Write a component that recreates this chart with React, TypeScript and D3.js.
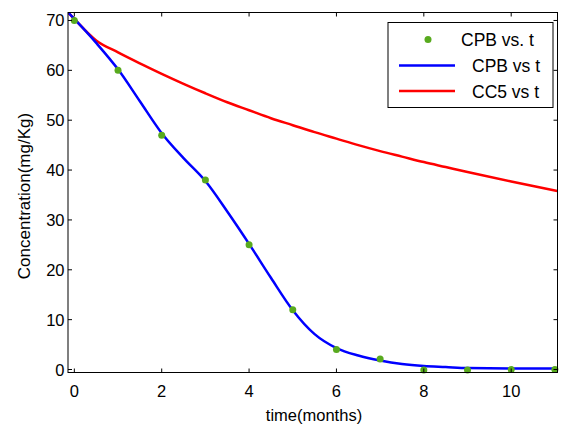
import React from "react";
import * as d3 from "d3";

const obsT = [0, 1, 2, 3, 4, 5, 6, 7, 8, 9, 10, 11];
const obsCPB = [70, 60, 47, 38, 25, 12, 4, 2.1, -0.1, -0.1, 0, 0];

const fitT = [-0.13, 0, 0.5, 1, 1.5, 2, 2.5, 3, 3.5, 4, 4.5, 5, 5.5, 6, 6.5, 7, 7.5, 8, 8.5, 9, 10, 11.06];
const fitCPB = [71.5, 70.3, 65.5, 60.2, 53.8, 47.4, 42.4, 37.8, 31.7, 25.2, 18.4, 11.9, 7.1, 4.3, 2.8, 1.8, 1.1, 0.7, 0.5, 0.3, 0.2, 0.2];
const fitCC5 = [71.5, 70.3, 66.0, 63.6, 61.4, 59.3, 57.3, 55.4, 53.6, 52.0, 50.4, 49.0, 47.6, 46.3, 45.0, 43.8, 42.7, 41.6, 40.6, 39.6, 37.7, 35.8];

const xTicks = [0, 2, 4, 6, 8, 10];
const yTicks = [0, 10, 20, 30, 40, 50, 60, 70];
const legendLabels = ["CPB vs. t", "CPB vs t", "CC5 vs t"];

const W = 562, H = 427;
const L = 68, R = 557.5, T = 12.5, B = 372.5;
const FONT = "'Liberation Sans', Arial, sans-serif";

export default function App() {
  const x = d3.scaleLinear().domain([-0.145, 11.06]).range([L, R]);
  const y = d3.scaleLinear().domain([-0.6, 71.6]).range([B, T]);
  const line = d3.line<number>().x((_, i) => x(fitT[i])).y((d) => y(d)).curve(d3.curveMonotoneX);
  const tl = 4;
  const green = "rgb(88,170,30)";
  const fs = 16.5;
  return (
    <svg width={W} height={H} style={{ position: "absolute", left: 0, top: 0, background: "#fff" }} fontFamily={FONT}>
      <rect x={0} y={0} width={W} height={H} fill="#fff" />
      <defs>
        <clipPath id="clip"><rect x={L} y={T} width={R - L} height={B - T} /></clipPath>
      </defs>
      <g clipPath="url(#clip)">
        <path d={line(fitCC5) || ""} fill="none" stroke="#ff0000" strokeWidth={2.5} />
        <path d={line(fitCPB) || ""} fill="none" stroke="#0000ff" strokeWidth={2.5} />
      </g>
      {obsT.map((t, i) => (
        <circle key={i} cx={x(t)} cy={y(obsCPB[i])} r={3.5} fill={green} />
      ))}
      <rect x={L} y={T} width={R - L} height={B - T} fill="none" stroke="#000" strokeWidth={1} />
      {xTicks.map((t) => (
        <g key={"x" + t}>
          <line x1={x(t)} x2={x(t)} y1={B} y2={B - tl} stroke="#000" />
          <line x1={x(t)} x2={x(t)} y1={T} y2={T + tl} stroke="#000" />
          <text x={x(t)} y={397} fontSize={fs} textAnchor="middle">{t}</text>
        </g>
      ))}
      {yTicks.map((v) => (
        <g key={"y" + v}>
          <line x1={L} x2={L + tl} y1={y(v)} y2={y(v)} stroke="#000" />
          <line x1={R} x2={R - tl} y1={y(v)} y2={y(v)} stroke="#000" />
          <text x={64.5} y={y(v) + 6} fontSize={fs} textAnchor="end">{v}</text>
        </g>
      ))}
      <text x={314} y={421} fontSize={fs} textAnchor="middle">time(months)</text>
      <text transform={`translate(30,196) rotate(-90)`} fontSize={17} textAnchor="middle">Concentration(mg/Kg)</text>
      <g>
        <rect x={388} y={22.5} width={165} height={85} fill="#fff" stroke="#000" strokeWidth={1} />
        <circle cx={428} cy={39.5} r={3.5} fill={green} />
        <text x={461} y={46} fontSize={17.5}>{legendLabels[0]}</text>
        <line x1={399} x2={455} y1={65.5} y2={65.5} stroke="#0000ff" strokeWidth={2.5} />
        <text x={472} y={72} fontSize={17.5}>{legendLabels[1]}</text>
        <line x1={399} x2={455} y1={91} y2={91} stroke="#ff0000" strokeWidth={2.5} />
        <text x={472} y={97.5} fontSize={17.5}>{legendLabels[2]}</text>
      </g>
    </svg>
  );
}
